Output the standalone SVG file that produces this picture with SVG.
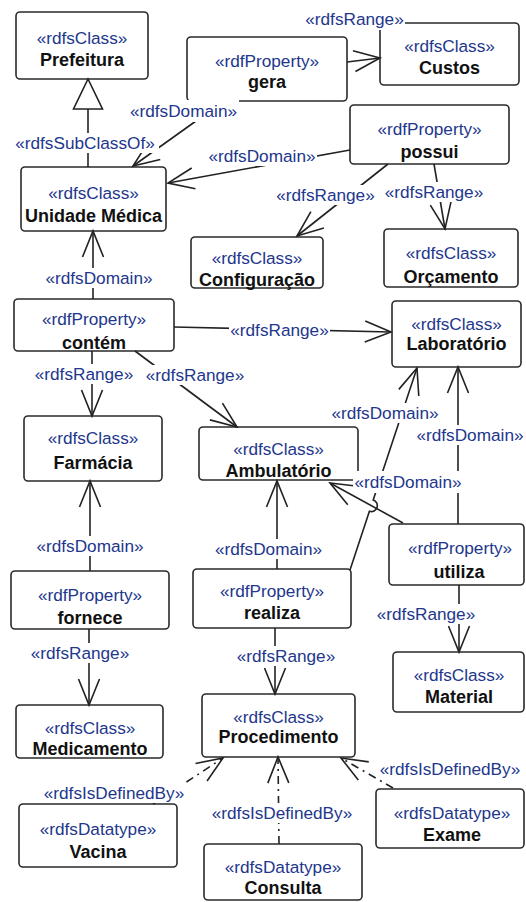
<svg xmlns="http://www.w3.org/2000/svg" width="526" height="902" viewBox="0 0 526 902">
<style>
.box{fill:#fff;stroke:#2a2a2a;stroke-width:1.6}
.st{font-family:"Liberation Sans",Arial,sans-serif;font-size:17.2px;fill:#22368c;text-anchor:middle}
.nm{font-family:"Liberation Sans",Arial,sans-serif;font-size:18px;font-weight:bold;fill:#111;text-anchor:middle}
.ln{fill:none;stroke:#222;stroke-width:1.6}
.dl{fill:none;stroke:#222;stroke-width:1.6;stroke-dasharray:8 5 2 5}
.arr{marker-end:url(#open)}
.lb{font-family:"Liberation Sans",Arial,sans-serif;font-size:17.2px;fill:#22368c;text-anchor:middle}
.bg{fill:#fff}
</style>
<defs>
<marker id="open" markerUnits="userSpaceOnUse" viewBox="-30 -14 32 28" markerWidth="32" markerHeight="28" refX="0" refY="0" orient="auto" overflow="visible">
<path d="M-26,-10.5 L0,0 L-26,10.5" fill="none" stroke="#222" stroke-width="1.6"/>
</marker>
<marker id="tri" markerUnits="userSpaceOnUse" viewBox="-32 -16 34 32" markerWidth="34" markerHeight="32" refX="0" refY="0" orient="auto" overflow="visible">
<path d="M0,0 L-30,-14.5 L-30,14.5 Z" fill="#fff" stroke="#222" stroke-width="1.6"/>
</marker>
</defs>
<rect width="526" height="902" fill="#fff"/>

<g id="Prefeitura"><rect class="box" x="16" y="12" width="132" height="67" rx="4"/><text class="st" x="82" y="44">«rdfsClass»</text><text class="nm" x="82" y="66">Prefeitura</text></g>
<g id="UnidadeMedica"><rect class="box" x="21" y="167" width="145" height="64" rx="4"/><text class="st" x="93.5" y="199">«rdfsClass»</text><text class="nm" x="93.5" y="222">Unidade Médica</text></g>
<g id="gera"><rect class="box" x="187" y="37" width="160" height="64" rx="4"/><text class="st" x="267" y="67">«rdfProperty»</text><text class="nm" x="267" y="88">gera</text></g>
<g id="Custos"><rect class="box" x="380" y="23" width="139" height="62" rx="4"/><text class="st" x="449.5" y="52">«rdfsClass»</text><text class="nm" x="449.5" y="74">Custos</text></g>
<g id="possui"><rect class="box" x="350" y="105" width="159" height="59" rx="4"/><text class="st" x="429.5" y="135">«rdfProperty»</text><text class="nm" x="429.5" y="158">possui</text></g>
<g id="Configuracao"><rect class="box" x="191" y="237" width="132" height="51" rx="4"/><text class="st" x="257" y="264">«rdfsClass»</text><text class="nm" x="257" y="286">Configuração</text></g>
<g id="Orcamento"><rect class="box" x="384" y="229" width="134" height="58" rx="4"/><text class="st" x="451" y="259">«rdfsClass»</text><text class="nm" x="451" y="283">Orçamento</text></g>
<g id="Laboratorio"><rect class="box" x="392" y="301" width="129" height="66" rx="4"/><text class="st" x="456.5" y="330">«rdfsClass»</text><text class="nm" x="456.5" y="350">Laboratório</text></g>
<g id="contem"><rect class="box" x="14" y="299" width="160" height="52" rx="4"/><text class="st" x="94" y="325">«rdfProperty»</text><text class="nm" x="94" y="349">contém</text></g>
<g id="Farmacia"><rect class="box" x="24" y="416" width="138" height="65" rx="4"/><text class="st" x="93" y="444">«rdfsClass»</text><text class="nm" x="93" y="469">Farmácia</text></g>
<g id="Ambulatorio"><rect class="box" x="199" y="427" width="159" height="53" rx="4"/><text class="st" x="278.5" y="455">«rdfsClass»</text><text class="nm" x="278.5" y="477">Ambulatório</text></g>
<g id="realiza"><rect class="box" x="193" y="569" width="158" height="59" rx="4"/><text class="st" x="272" y="597">«rdfProperty»</text><text class="nm" x="272" y="619">realiza</text></g>
<g id="fornece"><rect class="box" x="11" y="571" width="158" height="58" rx="4"/><text class="st" x="90" y="601">«rdfProperty»</text><text class="nm" x="90" y="624">fornece</text></g>
<g id="utiliza"><rect class="box" x="389" y="524" width="135" height="61" rx="4"/><text class="st" x="460" y="554">«rdfProperty»</text><text class="nm" x="459" y="578">utiliza</text></g>
<g id="Material"><rect class="box" x="393" y="652" width="131" height="60" rx="4"/><text class="st" x="459" y="681">«rdfsClass»</text><text class="nm" x="459" y="703">Material</text></g>
<g id="Medicamento"><rect class="box" x="16" y="705" width="147" height="53" rx="4"/><text class="st" x="90" y="734">«rdfsClass»</text><text class="nm" x="90" y="755">Medicamento</text></g>
<g id="Procedimento"><rect class="box" x="202" y="694" width="153" height="63" rx="4"/><text class="st" x="278.5" y="723">«rdfsClass»</text><text class="nm" x="278.5" y="743">Procedimento</text></g>
<g id="Vacina"><rect class="box" x="19" y="804" width="158" height="63" rx="4"/><text class="st" x="98" y="835">«rdfsDatatype»</text><text class="nm" x="98" y="858">Vacina</text></g>
<g id="Exame"><rect class="box" x="376" y="789" width="148" height="59" rx="4"/><text class="st" x="452" y="819">«rdfsDatatype»</text><text class="nm" x="452" y="841">Exame</text></g>
<g id="Consulta"><rect class="box" x="204" y="844" width="158" height="56" rx="4"/><text class="st" x="283" y="873">«rdfsDatatype»</text><text class="nm" x="283" y="894">Consulta</text></g>

<g id="connectors">
<path class="ln" d="M88,167 L88,79" marker-end="url(#tri)"/>
<path class="ln arr" d="M224,101 L133,166"/>
<path class="ln arr" d="M350,150 L168,183"/>
<path class="ln arr" d="M347,62 L380,58"/>
<path class="ln arr" d="M388,164 L297,236"/>
<path class="ln arr" d="M434,164 L445,229"/>
<path class="ln arr" d="M93,299 L93,231"/>
<path class="ln arr" d="M174,327 L391,332"/>
<path class="ln arr" d="M92,351 L92,416"/>
<path class="ln arr" d="M135,351 L237,427"/>
<path class="ln arr" d="M458,524 L458,367"/>
<path class="ln arr" d="M350,570 L369.4,511.3 A6,6 0 0 0 373.2,499.9 L417,368"/>
<path class="ln arr" d="M403,523 L330,483"/>
<path class="ln arr" d="M277,569 L277,481"/>
<path class="ln arr" d="M275,628 L275,694"/>
<path class="ln arr" d="M90,571 L90,481"/>
<path class="ln arr" d="M89,629 L89,705"/>
<path class="ln arr" d="M459,585 L459,652"/>
<path class="dl arr" d="M153,804 L223,758"/>
<path class="dl arr" d="M279,844 L278,757"/>
<path class="dl arr" d="M393,788 L341,758"/>

<g id="labels">
<rect class="bg" x="11" y="133" width="148" height="20"/><text class="lb" x="85" y="149">«rdfsSubClassOf»</text>
<rect class="bg" x="128" y="100" width="111" height="22"/><text class="lb" x="183.5" y="117">«rdfsDomain»</text>
<rect class="bg" x="207" y="146" width="110" height="20"/><text class="lb" x="262" y="162">«rdfsDomain»</text>
<rect class="bg" x="304" y="8" width="101" height="22"/><text class="lb" x="354.5" y="25">«rdfsRange»</text>
<rect class="bg" x="275" y="185" width="101" height="20"/><text class="lb" x="325.5" y="201">«rdfsRange»</text>
<rect class="bg" x="384" y="182" width="101" height="20"/><text class="lb" x="434" y="198">«rdfsRange»</text>
<rect class="bg" x="44" y="268" width="110" height="20"/><text class="lb" x="99" y="284">«rdfsDomain»</text>
<rect class="bg" x="229" y="320" width="101" height="20"/><text class="lb" x="279.5" y="336">«rdfsRange»</text>
<rect class="bg" x="34" y="364" width="101" height="20"/><text class="lb" x="84" y="380">«rdfsRange»</text>
<rect class="bg" x="144" y="365" width="102" height="20"/><text class="lb" x="195" y="381">«rdfsRange»</text>
<rect class="bg" x="414" y="425" width="112" height="20"/><text class="lb" x="470" y="441">«rdfsDomain»</text>
<rect class="bg" x="330" y="403" width="110" height="20"/><text class="lb" x="385" y="419">«rdfsDomain»</text>
<rect class="bg" x="353" y="471" width="110" height="22"/><text class="lb" x="408" y="488">«rdfsDomain»</text>
<rect class="bg" x="213" y="539" width="111" height="20"/><text class="lb" x="268.5" y="555">«rdfsDomain»</text>
<rect class="bg" x="236" y="646" width="101" height="20"/><text class="lb" x="286" y="662">«rdfsRange»</text>
<rect class="bg" x="35" y="536" width="110" height="20"/><text class="lb" x="90" y="552">«rdfsDomain»</text>
<rect class="bg" x="30" y="643" width="101" height="20"/><text class="lb" x="80" y="659">«rdfsRange»</text>
<rect class="bg" x="375" y="604" width="102" height="20"/><text class="lb" x="426" y="620">«rdfsRange»</text>
<rect class="bg" x="41" y="783" width="146" height="20"/><text class="lb" x="114" y="799">«rdfsIsDefinedBy»</text>
<rect class="bg" x="209" y="803" width="146" height="20"/><text class="lb" x="282" y="819">«rdfsIsDefinedBy»</text>
<rect class="bg" x="377" y="759" width="148" height="20"/><text class="lb" x="450" y="775">«rdfsIsDefinedBy»</text>
</g>
</g>
</svg>
